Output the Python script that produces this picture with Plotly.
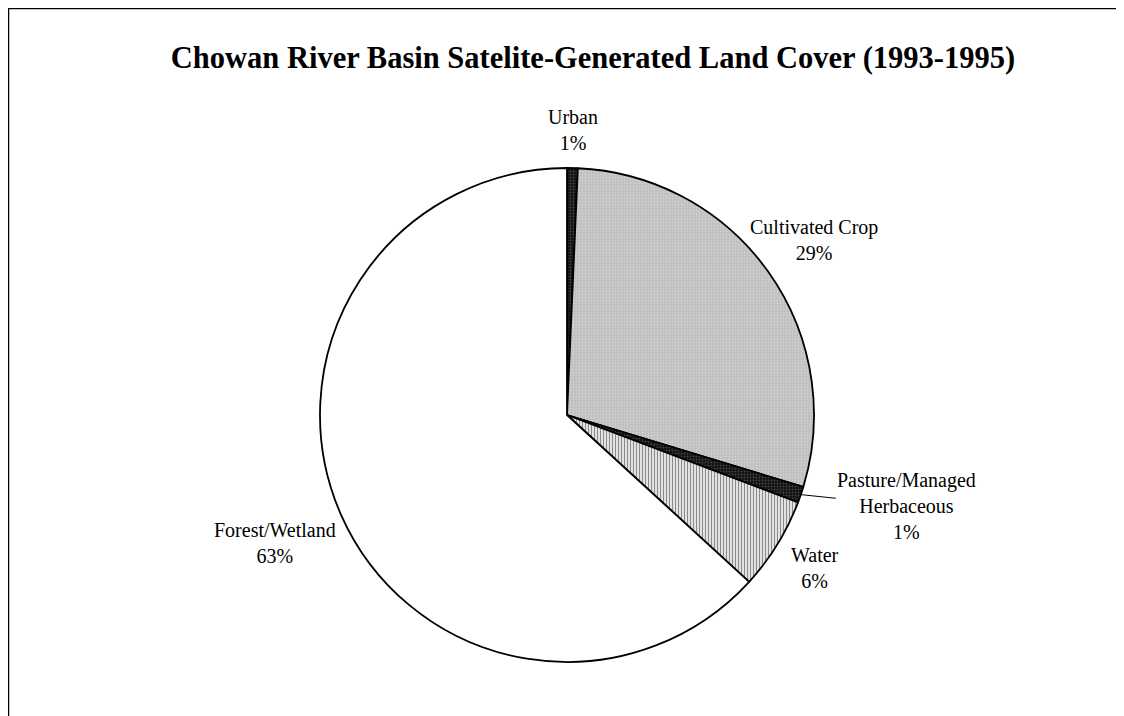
import math
import plotly.graph_objects as go

# Data
categories = ["Urban", "Cultivated Crop", "Pasture/Managed<br>Herbaceous", "Water", "Forest/Wetland"]
values = [0.7, 29.0, 1.05, 6.05, 63.2]

W, H = 1124, 716
cx, cy, r = 559, 407, 247   # pie centre/radius in figure pixels

fills = ["#111111", "#bfbfbf", "#111111", "#ffffff", "#ffffff"]
pat_shapes = [".", ".", ".", "|", ""]
pat_fg = ["#444444", "#d2d2d2", "#444444", "#8a8a8a", "#ffffff"]
pat_sol = [0.3, 0.3, 0.3, 0.5, 0.3]

fig = go.Figure()
fig.add_trace(go.Pie(
    labels=categories,
    values=values,
    sort=False,
    direction="clockwise",
    rotation=0,
    textinfo="none",
    marker=dict(
        colors=fills,
        line=dict(color="black", width=1.8),
        pattern=dict(shape=pat_shapes, fgcolor=pat_fg, bgcolor=fills, size=3, solidity=pat_sol),
    ),
    domain=dict(x=[(cx - r) / W, (cx + r) / W], y=[(H - cy - r) / H, (H - cy + r) / H]),
    showlegend=False,
    hoverinfo="label+percent",
))

# Data labels placed along each slice's mid-angle (Excel "best fit" style)
total = sum(values)
label_k = [1.155, 1.225, None, 1.18, 1.29]
annotations = []
cum = 0.0
lab_font = dict(family="Liberation Serif", size=20, color="black")
for name, v, k in zip(categories, values, label_k):
    mid = (cum + v / 2) / total * 2 * math.pi
    cum += v
    pct = f"{round(v / total * 100):.0f}%"
    txt = f"{name}<br>{pct}"
    if k is None:
        # leader-line label
        ex, ey = cx + r * math.sin(mid), cy - r * math.cos(mid)
        annotations.append(dict(
            x=ex / W, y=1 - ey / H, xref="paper", yref="paper",
            text=txt, showarrow=True, arrowhead=0, arrowwidth=1, arrowcolor="black",
            ax=106, ay=11, font=lab_font, align="center",
        ))
    else:
        lx, ly = cx + r * k * math.sin(mid), cy - r * k * math.cos(mid)
        annotations.append(dict(
            x=lx / W, y=1 - ly / H, xref="paper", yref="paper",
            text=txt, showarrow=False, xanchor="center", yanchor="middle",
            font=lab_font, align="center",
        ))

fig.update_layout(
    width=W, height=H,
    margin=dict(l=0, r=0, t=0, b=0),
    paper_bgcolor="white",
    title=dict(
        text="<b>Chowan River Basin Satelite-Generated Land Cover (1993-1995)</b>",
        x=585 / W, xanchor="center", y=1 - 49 / H, yanchor="middle",
        font=dict(family="Liberation Serif", size=30.5, color="black"),
    ),
    annotations=annotations,
    shapes=[dict(type="rect", xref="paper", yref="paper",
                 x0=0, x1=1.05, y0=-0.05, y1=1,
                 line=dict(color="black", width=2.5), fillcolor="rgba(0,0,0,0)", layer="above")],
)

fig.write_html("out.html")
